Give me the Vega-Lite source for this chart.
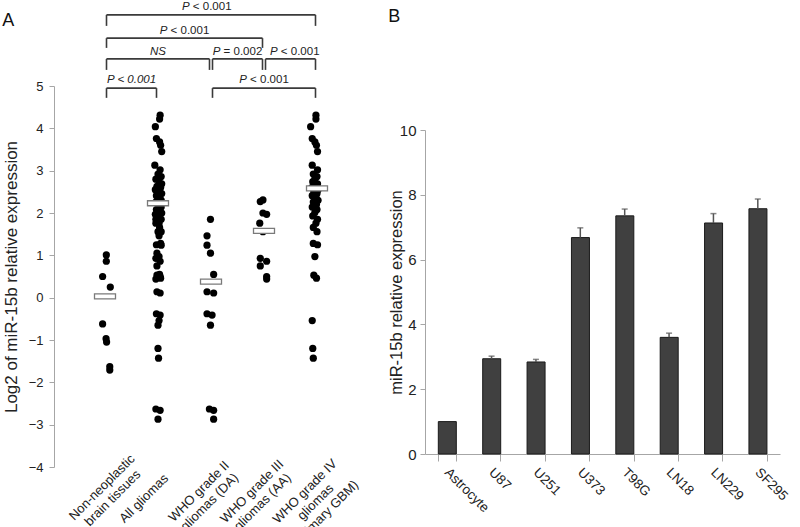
{
  "$schema": "https://vega.github.io/schema/vega-lite/v6.json",
  "padding": {"left": 2, "top": 0, "right": 5, "bottom": 3},
  "background": "white",
  "config": {
    "font": "Liberation Sans",
    "view": {"stroke": null},
    "axis": {"grid": false, "labelFont": "Liberation Sans", "titleFont": "Liberation Sans", "titleFontWeight": "normal", "labelColor": "#222", "titleColor": "#222", "domainColor": "#a6a6a6", "tickColor": "#a6a6a6"},
    "title": {"anchor": "start", "frame": "bounds", "fontSize": 18, "fontWeight": "normal", "baseline": "top", "color": "#111", "font": "Liberation Sans"}
  },
  "datasets": {
    "pts": [
      {"g": "Non-neoplastic brain tissues", "v": 1.01, "j": 0.025},
      {"g": "Non-neoplastic brain tissues", "v": 0.86, "j": 0.025},
      {"g": "Non-neoplastic brain tissues", "v": 0.5, "j": -0.045},
      {"g": "Non-neoplastic brain tissues", "v": 0.25, "j": 0.1},
      {"g": "Non-neoplastic brain tissues", "v": -0.62, "j": -0.045},
      {"g": "Non-neoplastic brain tissues", "v": -0.97, "j": 0.02},
      {"g": "Non-neoplastic brain tissues", "v": -1.05, "j": 0.03},
      {"g": "Non-neoplastic brain tissues", "v": -1.63, "j": 0.09},
      {"g": "Non-neoplastic brain tissues", "v": -1.71, "j": 0.09},
      {"g": "All gliomas", "v": 4.31, "j": 0.04},
      {"g": "All gliomas", "v": 4.22, "j": 0.03},
      {"g": "All gliomas", "v": 4.04, "j": -0.05},
      {"g": "All gliomas", "v": 3.76, "j": -0.03},
      {"g": "All gliomas", "v": 3.68, "j": 0.03},
      {"g": "All gliomas", "v": 3.6, "j": 0.05},
      {"g": "All gliomas", "v": 3.45, "j": 0.07},
      {"g": "All gliomas", "v": 3.13, "j": -0.06},
      {"g": "All gliomas", "v": 3.02, "j": 0.04},
      {"g": "All gliomas", "v": 2.92, "j": 0.0},
      {"g": "All gliomas", "v": 2.86, "j": 0.06},
      {"g": "All gliomas", "v": 2.8, "j": -0.04},
      {"g": "All gliomas", "v": 2.74, "j": 0.02},
      {"g": "All gliomas", "v": 2.69, "j": 0.07},
      {"g": "All gliomas", "v": 2.63, "j": -0.02},
      {"g": "All gliomas", "v": 2.6, "j": 0.05},
      {"g": "All gliomas", "v": 2.55, "j": -0.05},
      {"g": "All gliomas", "v": 2.5, "j": 0.03},
      {"g": "All gliomas", "v": 2.46, "j": 0.07},
      {"g": "All gliomas", "v": 2.41, "j": -0.03},
      {"g": "All gliomas", "v": 2.37, "j": 0.02},
      {"g": "All gliomas", "v": 2.3, "j": 0.06},
      {"g": "All gliomas", "v": 2.26, "j": -0.04},
      {"g": "All gliomas", "v": 2.2, "j": 0.01},
      {"g": "All gliomas", "v": 2.14, "j": 0.06},
      {"g": "All gliomas", "v": 2.08, "j": -0.03},
      {"g": "All gliomas", "v": 2.01, "j": 0.04},
      {"g": "All gliomas", "v": 1.93, "j": -0.01},
      {"g": "All gliomas", "v": 1.85, "j": 0.06},
      {"g": "All gliomas", "v": 1.76, "j": -0.04},
      {"g": "All gliomas", "v": 1.66, "j": 0.03},
      {"g": "All gliomas", "v": 1.56, "j": 0.0},
      {"g": "All gliomas", "v": 1.28, "j": 0.05},
      {"g": "All gliomas", "v": 1.25, "j": -0.03},
      {"g": "All gliomas", "v": 0.97, "j": 0.02},
      {"g": "All gliomas", "v": 0.53, "j": -0.02},
      {"g": "All gliomas", "v": 0.46, "j": 0.05},
      {"g": "All gliomas", "v": -0.54, "j": 0.02},
      {"g": "All gliomas", "v": -1.2, "j": 0.0},
      {"g": "All gliomas", "v": -1.43, "j": 0.01},
      {"g": "All gliomas", "v": 2.31, "j": 0.05},
      {"g": "All gliomas", "v": 2.27, "j": -0.02},
      {"g": "All gliomas", "v": 2.0, "j": 0.07},
      {"g": "All gliomas", "v": 1.97, "j": -0.05},
      {"g": "All gliomas", "v": 1.76, "j": 0.02},
      {"g": "All gliomas", "v": 1.56, "j": 0.06},
      {"g": "All gliomas", "v": 0.93, "j": -0.04},
      {"g": "All gliomas", "v": 0.86, "j": 0.04},
      {"g": "All gliomas", "v": 0.75, "j": -0.02},
      {"g": "All gliomas", "v": 0.5, "j": 0.04},
      {"g": "All gliomas", "v": 0.44, "j": -0.04},
      {"g": "All gliomas", "v": 1.85, "j": -0.04},
      {"g": "All gliomas", "v": 1.46, "j": 0.02},
      {"g": "All gliomas", "v": 1.24, "j": 0.06},
      {"g": "All gliomas", "v": 1.05, "j": -0.02},
      {"g": "All gliomas", "v": 0.55, "j": 0.03},
      {"g": "All gliomas", "v": 0.14, "j": -0.02},
      {"g": "All gliomas", "v": 0.11, "j": 0.04},
      {"g": "All gliomas", "v": -0.38, "j": -0.03},
      {"g": "All gliomas", "v": -0.41, "j": 0.04},
      {"g": "All gliomas", "v": -0.65, "j": 0.0},
      {"g": "All gliomas", "v": -2.63, "j": -0.04},
      {"g": "All gliomas", "v": -2.66, "j": 0.04},
      {"g": "All gliomas", "v": -2.87, "j": 0.0},
      {"g": "WHO grade II gliomas (DA)", "v": 1.85, "j": -0.01},
      {"g": "WHO grade II gliomas (DA)", "v": 1.46, "j": -0.075},
      {"g": "WHO grade II gliomas (DA)", "v": 1.24, "j": -0.075},
      {"g": "WHO grade II gliomas (DA)", "v": 1.05, "j": -0.01},
      {"g": "WHO grade II gliomas (DA)", "v": 0.55, "j": 0.05},
      {"g": "WHO grade II gliomas (DA)", "v": 0.14, "j": -0.075},
      {"g": "WHO grade II gliomas (DA)", "v": 0.11, "j": 0.05},
      {"g": "WHO grade II gliomas (DA)", "v": -0.38, "j": -0.075},
      {"g": "WHO grade II gliomas (DA)", "v": -0.41, "j": 0.02},
      {"g": "WHO grade II gliomas (DA)", "v": -0.65, "j": -0.01},
      {"g": "WHO grade II gliomas (DA)", "v": -2.63, "j": -0.03},
      {"g": "WHO grade II gliomas (DA)", "v": -2.66, "j": 0.05},
      {"g": "WHO grade II gliomas (DA)", "v": -2.87, "j": 0.05},
      {"g": "WHO grade III gliomas (AA)", "v": 2.31, "j": -0.02},
      {"g": "WHO grade III gliomas (AA)", "v": 2.27, "j": -0.07},
      {"g": "WHO grade III gliomas (AA)", "v": 2.0, "j": -0.02},
      {"g": "WHO grade III gliomas (AA)", "v": 1.97, "j": 0.05},
      {"g": "WHO grade III gliomas (AA)", "v": 1.76, "j": -0.08},
      {"g": "WHO grade III gliomas (AA)", "v": 1.56, "j": -0.02},
      {"g": "WHO grade III gliomas (AA)", "v": 0.93, "j": -0.07},
      {"g": "WHO grade III gliomas (AA)", "v": 0.86, "j": 0.05},
      {"g": "WHO grade III gliomas (AA)", "v": 0.75, "j": -0.07},
      {"g": "WHO grade III gliomas (AA)", "v": 0.5, "j": 0.05},
      {"g": "WHO grade III gliomas (AA)", "v": 0.44, "j": 0.05},
      {"g": "WHO grade IV gliomas (primary GBM)", "v": 4.31, "j": -0.02},
      {"g": "WHO grade IV gliomas (primary GBM)", "v": 4.22, "j": -0.02},
      {"g": "WHO grade IV gliomas (primary GBM)", "v": 4.04, "j": -0.12},
      {"g": "WHO grade IV gliomas (primary GBM)", "v": 3.76, "j": -0.09},
      {"g": "WHO grade IV gliomas (primary GBM)", "v": 3.68, "j": -0.04},
      {"g": "WHO grade IV gliomas (primary GBM)", "v": 3.6, "j": -0.01},
      {"g": "WHO grade IV gliomas (primary GBM)", "v": 3.45, "j": 0.01},
      {"g": "WHO grade IV gliomas (primary GBM)", "v": 3.13, "j": -0.09},
      {"g": "WHO grade IV gliomas (primary GBM)", "v": 3.02, "j": 0.01},
      {"g": "WHO grade IV gliomas (primary GBM)", "v": 2.92, "j": -0.07},
      {"g": "WHO grade IV gliomas (primary GBM)", "v": 2.86, "j": 0.0},
      {"g": "WHO grade IV gliomas (primary GBM)", "v": 2.8, "j": -0.04},
      {"g": "WHO grade IV gliomas (primary GBM)", "v": 2.74, "j": -0.08},
      {"g": "WHO grade IV gliomas (primary GBM)", "v": 2.69, "j": 0.01},
      {"g": "WHO grade IV gliomas (primary GBM)", "v": 2.63, "j": -0.02},
      {"g": "WHO grade IV gliomas (primary GBM)", "v": 2.6, "j": -0.1},
      {"g": "WHO grade IV gliomas (primary GBM)", "v": 2.55, "j": 0.02},
      {"g": "WHO grade IV gliomas (primary GBM)", "v": 2.5, "j": -0.06},
      {"g": "WHO grade IV gliomas (primary GBM)", "v": 2.46, "j": 0.0},
      {"g": "WHO grade IV gliomas (primary GBM)", "v": 2.41, "j": -0.09},
      {"g": "WHO grade IV gliomas (primary GBM)", "v": 2.37, "j": -0.02},
      {"g": "WHO grade IV gliomas (primary GBM)", "v": 2.3, "j": 0.02},
      {"g": "WHO grade IV gliomas (primary GBM)", "v": 2.26, "j": -0.07},
      {"g": "WHO grade IV gliomas (primary GBM)", "v": 2.2, "j": -0.01},
      {"g": "WHO grade IV gliomas (primary GBM)", "v": 2.14, "j": -0.09},
      {"g": "WHO grade IV gliomas (primary GBM)", "v": 2.08, "j": 0.0},
      {"g": "WHO grade IV gliomas (primary GBM)", "v": 2.01, "j": -0.04},
      {"g": "WHO grade IV gliomas (primary GBM)", "v": 1.93, "j": -0.08},
      {"g": "WHO grade IV gliomas (primary GBM)", "v": 1.85, "j": 0.01},
      {"g": "WHO grade IV gliomas (primary GBM)", "v": 1.76, "j": -0.02},
      {"g": "WHO grade IV gliomas (primary GBM)", "v": 1.66, "j": -0.07},
      {"g": "WHO grade IV gliomas (primary GBM)", "v": 1.56, "j": 0.0},
      {"g": "WHO grade IV gliomas (primary GBM)", "v": 1.28, "j": -0.07},
      {"g": "WHO grade IV gliomas (primary GBM)", "v": 1.25, "j": 0.01},
      {"g": "WHO grade IV gliomas (primary GBM)", "v": 0.97, "j": -0.04},
      {"g": "WHO grade IV gliomas (primary GBM)", "v": 0.53, "j": -0.06},
      {"g": "WHO grade IV gliomas (primary GBM)", "v": 0.46, "j": -0.01},
      {"g": "WHO grade IV gliomas (primary GBM)", "v": -0.54, "j": -0.09},
      {"g": "WHO grade IV gliomas (primary GBM)", "v": -1.2, "j": -0.08},
      {"g": "WHO grade IV gliomas (primary GBM)", "v": -1.43, "j": -0.07}
    ],
    "med": [
      {"g": "Non-neoplastic brain tissues", "m": 0.03},
      {"g": "All gliomas", "m": 2.23},
      {"g": "WHO grade II gliomas (DA)", "m": 0.38},
      {"g": "WHO grade III gliomas (AA)", "m": 1.58},
      {"g": "WHO grade IV gliomas (primary GBM)", "m": 2.58}
    ],
    "br": [
      {"a": "Non-neoplastic brain tissues", "b": "All gliomas", "top": 4.95, "foot": 4.72, "tg": "Non-neoplastic brain tissues", "ts": 0.5, "tv": 5.13, "it": "", "nt": "", "full": "P < 0.001"},
      {"a": "WHO grade II gliomas (DA)", "b": "WHO grade IV gliomas (primary GBM)", "top": 4.95, "foot": 4.72, "tg": "WHO grade III gliomas (AA)", "ts": 0, "tv": 5.13, "it": "P", "nt": "< 0.001", "full": ""},
      {"a": "Non-neoplastic brain tissues", "b": "WHO grade II gliomas (DA)", "top": 5.64, "foot": 5.38, "tg": "All gliomas", "ts": 0, "tv": 5.81, "it": "", "nt": "", "full": "NS"},
      {"a": "WHO grade II gliomas (DA)", "b": "WHO grade III gliomas (AA)", "top": 5.64, "foot": 5.38, "tg": "WHO grade II gliomas (DA)", "ts": 0.5, "tv": 5.81, "it": "P", "nt": "= 0.002", "full": ""},
      {"a": "WHO grade III gliomas (AA)", "b": "WHO grade IV gliomas (primary GBM)", "top": 5.64, "foot": 5.38, "tg": "WHO grade III gliomas (AA)", "ts": 0.58, "tv": 5.81, "it": "P", "nt": "< 0.001", "full": ""},
      {"a": "Non-neoplastic brain tissues", "b": "WHO grade III gliomas (AA)", "top": 6.13, "foot": 5.9, "tg": "All gliomas", "ts": 0.5, "tv": 6.3, "it": "P", "nt": "< 0.001", "full": ""},
      {"a": "Non-neoplastic brain tissues", "b": "WHO grade IV gliomas (primary GBM)", "top": 6.68, "foot": 6.42, "tg": "WHO grade II gliomas (DA)", "ts": -0.08, "tv": 6.86, "it": "P", "nt": "< 0.001", "full": ""}
    ],
    "cells": [
      {"c": "Astrocyte", "v": 1.0, "hi": null},
      {"c": "U87", "v": 2.94, "hi": 3.02},
      {"c": "U251", "v": 2.84, "hi": 2.92},
      {"c": "U373", "v": 6.68, "hi": 6.98},
      {"c": "T98G", "v": 7.35, "hi": 7.56},
      {"c": "LN18", "v": 3.6, "hi": 3.73},
      {"c": "LN229", "v": 7.13, "hi": 7.42},
      {"c": "SF295", "v": 7.57, "hi": 7.87}
    ]
  },
  "spacing": 57,
  "bounds": "flush",
  "hconcat": [
    {
      "title": {"text": "A", "offset": -30},
      "width": 314,
      "height": 467,
      "layer": [
        {
          "data": {"name": "br"},
          "mark": {"type": "rule", "color": "#3a3a3a", "strokeWidth": 1.6, "xOffset": 1.5, "x2Offset": -1.5},
          "encoding": {
            "x": {"field": "a", "type": "nominal", "bandPosition": 0.5,
              "scale": {"type": "band", "domain": ["Non-neoplastic brain tissues", "All gliomas", "WHO grade II gliomas (DA)", "WHO grade III gliomas (AA)", "WHO grade IV gliomas (primary GBM)"], "paddingInner": 0, "paddingOuter": 0.4623},
              "axis": {"title": null, "domain": false, "ticks": false, "tickSize": 0, "labelAngle": -45, "labelAlign": "center", "labelBaseline": "middle", "labelFontSize": 13, "labelLineHeight": 15,
                "labelPadding": {"condition": [{"test": "datum.value == 'All gliomas'", "value": 31}, {"test": "datum.value == 'Non-neoplastic brain tissues'", "value": 20}], "value": 24},
                "labelOffset": {"condition": [{"test": "datum.value == 'Non-neoplastic brain tissues'", "value": -3}, {"test": "datum.value == 'All gliomas'", "value": -14}], "value": -12},
                "labelExpr": "datum.value == 'Non-neoplastic brain tissues' ? ['Non-neoplastic', 'brain tissues'] : datum.value == 'WHO grade II gliomas (DA)' ? ['WHO grade II', 'gliomas (DA)'] : datum.value == 'WHO grade III gliomas (AA)' ? ['WHO grade III', 'gliomas (AA)'] : datum.value == 'WHO grade IV gliomas (primary GBM)' ? ['WHO grade IV', 'gliomas', '(primary GBM)'] : datum.label"}},
            "x2": {"field": "b", "bandPosition": 0.5},
            "y": {"field": "top", "type": "quantitative",
              "scale": {"domain": [-4, 5], "range": [467, 86], "nice": false, "zero": false},
              "axis": {"title": "Log2 of miR-15b relative expression", "values": [-4, -3, -2, -1, 0, 1, 2, 3, 4, 5], "tickSize": 5, "labelPadding": 6, "labelFontSize": 13, "titleFontSize": 17, "titlePadding": 8}}
          }
        },
        {
          "data": {"name": "br"},
          "mark": {"type": "rule", "color": "#3a3a3a", "strokeWidth": 1.6, "xOffset": 1.5},
          "encoding": {
            "x": {"field": "a", "type": "nominal", "bandPosition": 0.5},
            "y": {"field": "top", "type": "quantitative"},
            "y2": {"field": "foot"}
          }
        },
        {
          "data": {"name": "br"},
          "mark": {"type": "rule", "color": "#3a3a3a", "strokeWidth": 1.6, "xOffset": -1.5},
          "encoding": {
            "x": {"field": "b", "type": "nominal", "bandPosition": 0.5},
            "y": {"field": "top", "type": "quantitative"},
            "y2": {"field": "foot"}
          }
        },
        {
          "data": {"name": "br"},
          "transform": [{"filter": "datum.it != ''"}],
          "mark": {"type": "text", "fontStyle": "italic", "fontSize": 11.5, "align": "left", "baseline": "middle", "dx": -24.8, "color": "#222"},
          "encoding": {
            "x": {"field": "tg", "type": "nominal"},
            "xOffset": {"field": "ts", "type": "quantitative", "scale": {"domain": [-0.5, 0.5], "range": [0, 53], "zero": false, "nice": false}},
            "y": {"field": "tv", "type": "quantitative"},
            "text": {"field": "it"}
          }
        },
        {
          "data": {"name": "br"},
          "transform": [{"filter": "datum.nt != ''"}],
          "mark": {"type": "text", "fontSize": 11.5, "align": "left", "baseline": "middle", "dx": -13.9, "color": "#222"},
          "encoding": {
            "x": {"field": "tg", "type": "nominal"},
            "xOffset": {"field": "ts", "type": "quantitative"},
            "y": {"field": "tv", "type": "quantitative"},
            "text": {"field": "nt"}
          }
        },
        {
          "data": {"name": "br"},
          "transform": [{"filter": "datum.full != ''"}],
          "mark": {"type": "text", "fontStyle": "italic", "fontSize": 11.5, "align": "center", "baseline": "middle", "color": "#222"},
          "encoding": {
            "x": {"field": "tg", "type": "nominal"},
            "xOffset": {"field": "ts", "type": "quantitative"},
            "y": {"field": "tv", "type": "quantitative"},
            "text": {"field": "full"}
          }
        },
        {
          "data": {"name": "pts"},
          "mark": {"type": "circle", "size": 52, "color": "#000", "opacity": 1},
          "encoding": {
            "x": {"field": "g", "type": "nominal"},
            "xOffset": {"field": "j", "type": "quantitative"},
            "y": {"field": "v", "type": "quantitative"}
          }
        },
        {
          "data": {"name": "med"},
          "mark": {"type": "tick", "color": "white", "stroke": "#7a7a7a", "strokeWidth": 1.3, "size": 21, "thickness": 5, "opacity": 1},
          "encoding": {
            "x": {"field": "g", "type": "nominal"},
            "y": {"field": "m", "type": "quantitative"}
          }
        }
      ]
    },
    {
      "title": {"text": "B", "offset": -26},
      "width": 355,
      "height": 454,
      "data": {"name": "cells"},
      "encoding": {
        "x": {"field": "c", "type": "nominal", "scale": {"domain": ["Astrocyte", "U87", "U251", "U373", "T98G", "LN18", "LN229", "SF295"], "paddingInner": 0.6, "paddingOuter": 0.3}, "axis": {"title": null, "tickBand": "extent", "tickSize": 7, "labelAngle": 45, "labelAlign": "left", "labelBaseline": "top", "labelFontSize": 13.5, "labelOffset": 4, "labelPadding": 4}}
      },
      "layer": [
        {
          "mark": {"type": "bar", "color": "#404040", "stroke": "#1a1a1a", "strokeWidth": 1},
          "encoding": {
            "y": {"field": "v", "type": "quantitative", "scale": {"domain": [0, 10], "range": [454, 130], "nice": false}, "axis": {"title": "miR-15b relative expression", "values": [0, 2, 4, 6, 8, 10], "tickSize": 5, "labelPadding": 4, "labelFontSize": 15, "titleFontSize": 16.5, "titlePadding": -5}}
          }
        },
        {
          "mark": {"type": "rule", "color": "#555", "strokeWidth": 1.5},
          "encoding": {
            "y": {"field": "v", "type": "quantitative"},
            "y2": {"field": "hi"}
          }
        },
        {
          "mark": {"type": "tick", "color": "#555", "thickness": 1.5, "size": 6},
          "encoding": {
            "y": {"field": "hi", "type": "quantitative"}
          }
        }
      ]
    }
  ]
}
